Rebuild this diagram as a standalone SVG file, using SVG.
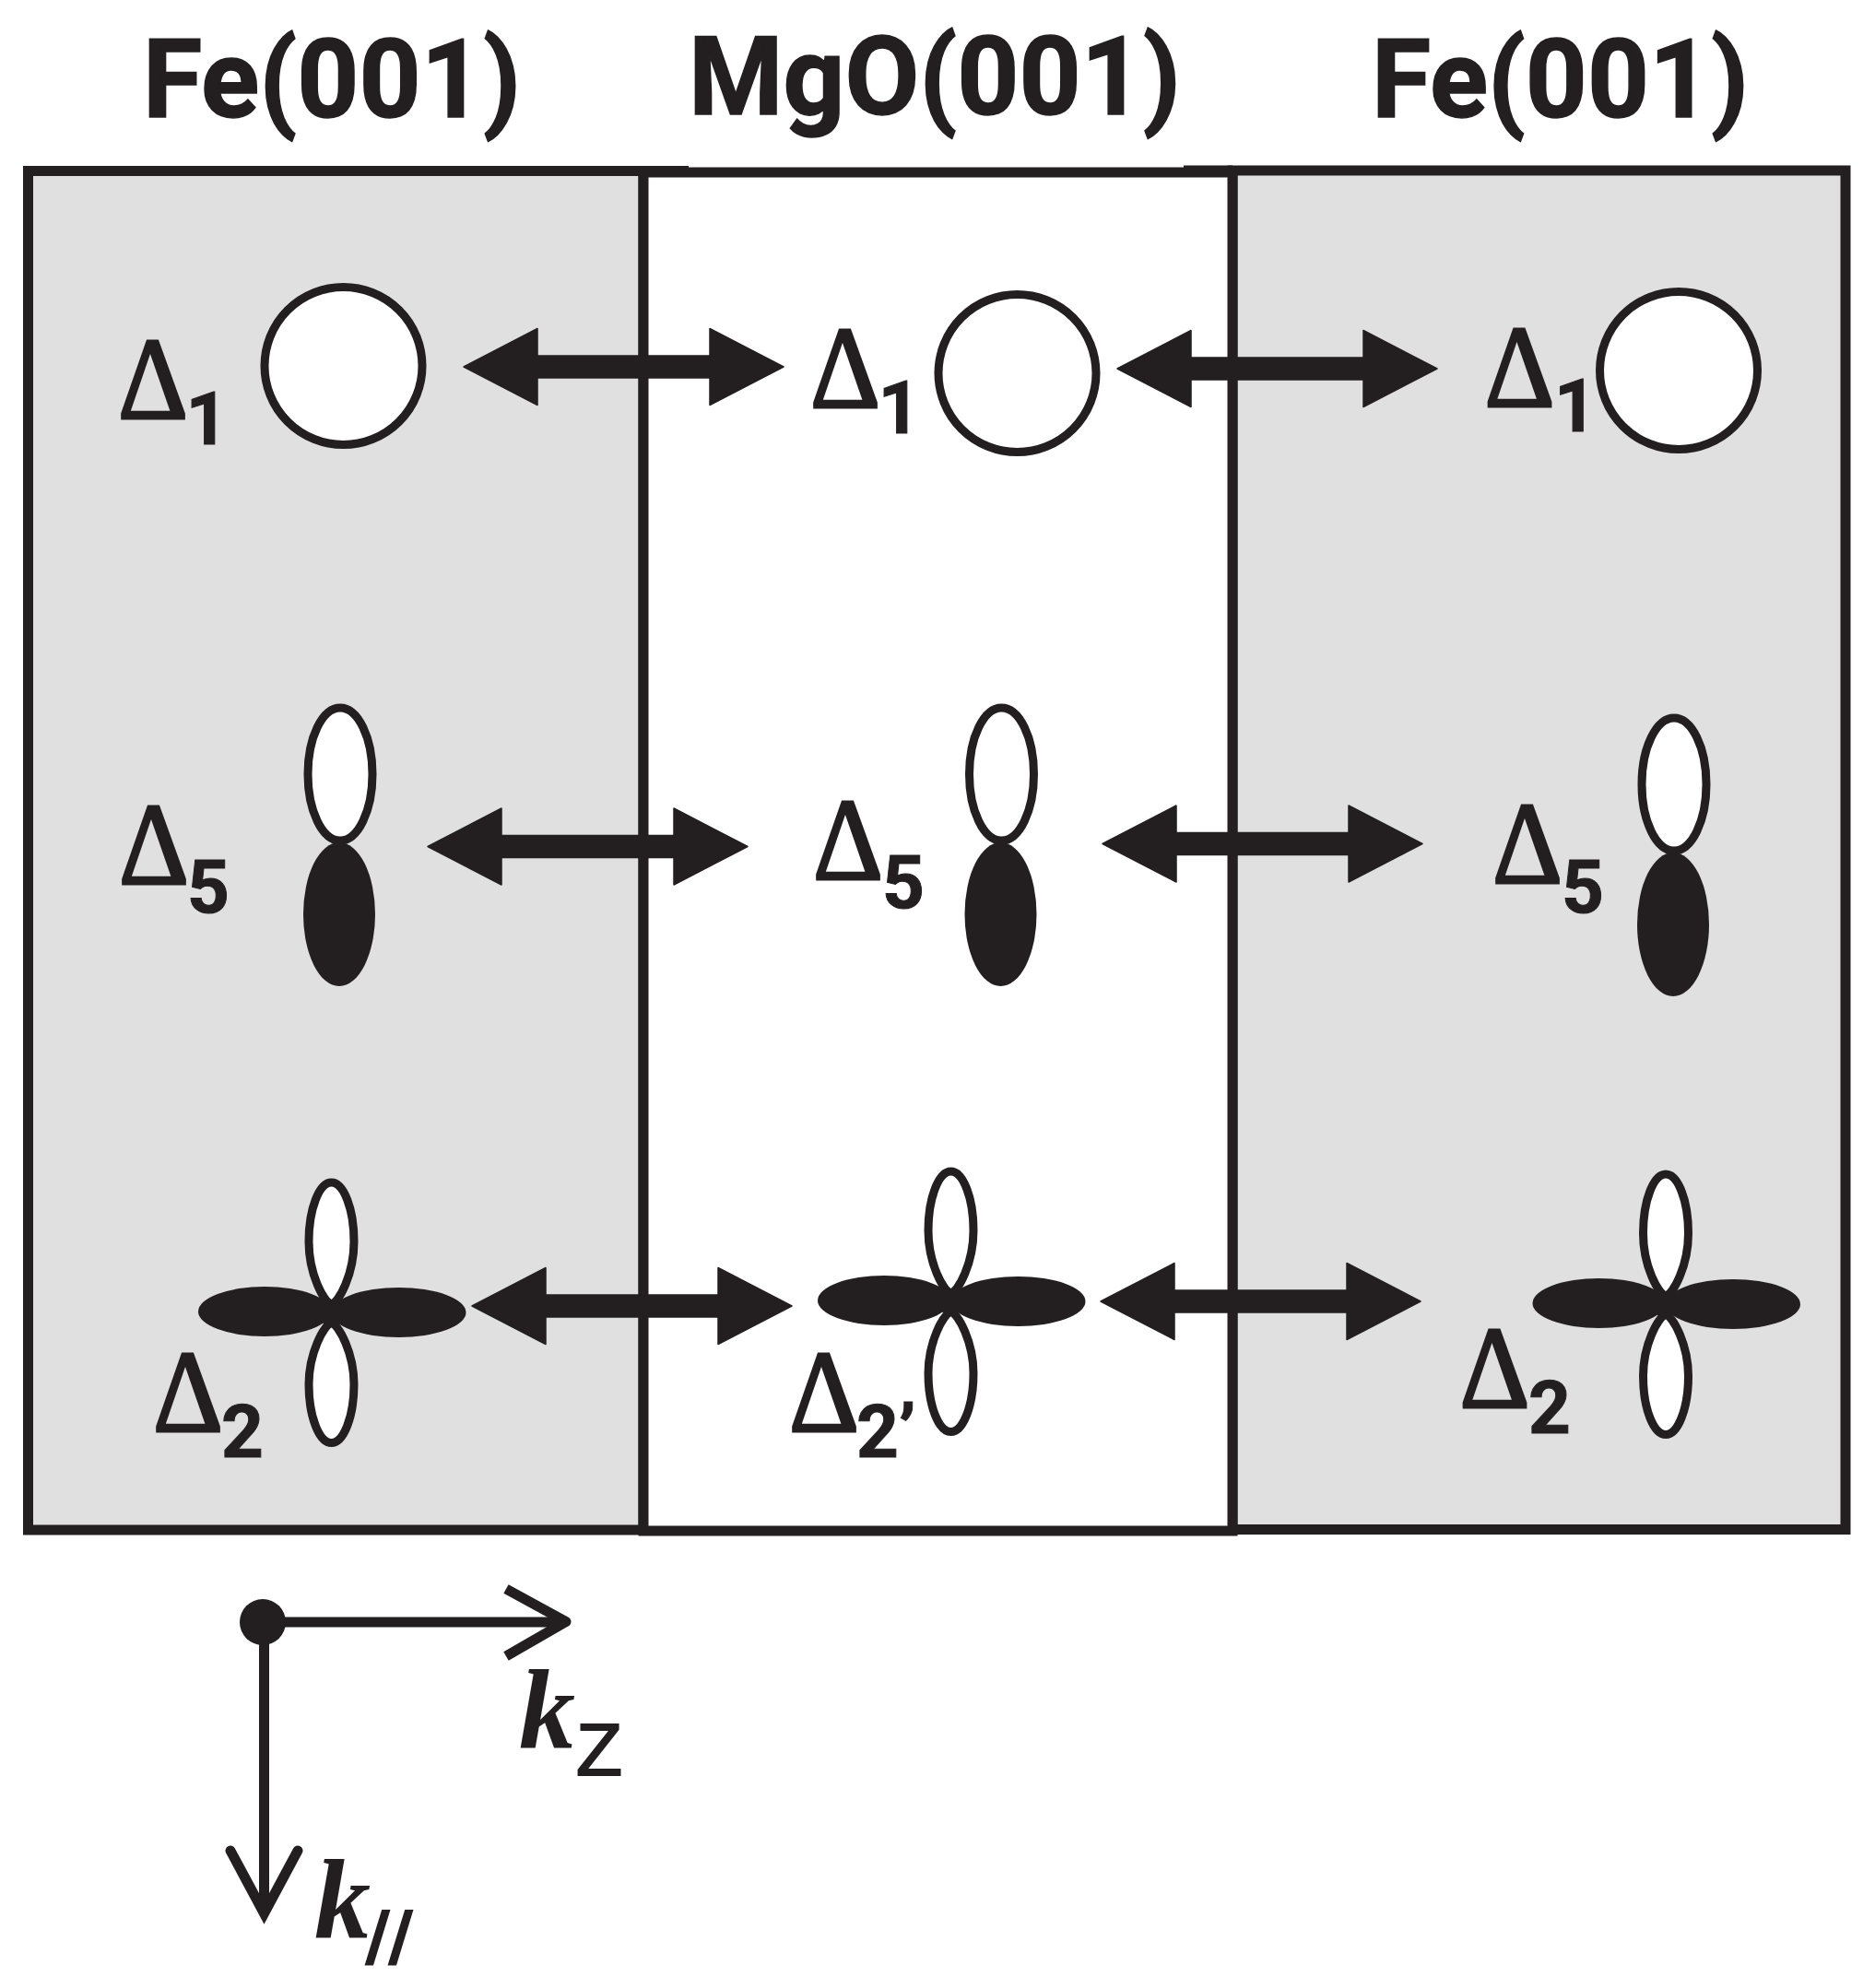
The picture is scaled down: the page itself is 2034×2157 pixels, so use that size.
<svg xmlns="http://www.w3.org/2000/svg" width="2034" height="2157" viewBox="0 0 2034 2157">
<style>
text{fill:#231f20}
.title{font-family:Roboto,"Liberation Sans",Arial,sans-serif;font-weight:700;font-size:118px;stroke:#231f20;stroke-width:1.5px}
.delta{font-family:"Liberation Serif","Times New Roman",serif;font-size:128px;stroke:#231f20;stroke-width:3px}
.sub{font-family:Roboto,"Liberation Sans",Arial,sans-serif;font-weight:700;font-size:80px;stroke:#231f20;stroke-width:1px}
.k{font-family:"Liberation Serif","Times New Roman",serif;font-weight:700;font-style:italic;font-size:122px}
.ks{font-family:"Liberation Sans",Arial,sans-serif;font-size:80px;stroke:#231f20;stroke-width:2px}
.panel{stroke:#231f20;stroke-width:11;fill:#e0e0e0}
.barrier{stroke:#231f20;stroke-width:11;fill:#fff}
.open{fill:#fff;stroke:#231f20;stroke-width:9;stroke-linejoin:round}
.solid{fill:#231f20}
.axis{fill:none;stroke:#231f20;stroke-width:11}
</style>
<defs>
<symbol id="arrow2" overflow="visible"><path d="M0 0L80 -41.500V-12H267V-41.500L347 0L267 41.500V12H80V41.500Z" fill="#231f20" stroke="#231f20" stroke-width="1.5" stroke-linejoin="round"/></symbol>
<symbol id="pz" overflow="visible"><ellipse class="open" cx="0" cy="-76" rx="35" ry="72"/><ellipse class="solid" cx="-1" cy="76" rx="39" ry="78"/></symbol>
<symbol id="dxy" overflow="visible"><ellipse class="solid" cx="-72.500" cy="0" rx="72" ry="27"/><ellipse class="solid" cx="73" cy="1" rx="73" ry="27"/><circle class="solid" cx="0" cy="2" r="14"/><path class="open" d="M0 -8C-8 -10 -24.500 -40 -24.500 -76C-24.500 -112 -13 -140 0 -140C13 -140 24.500 -112 24.500 -76C24.500 -40 8 -10 0 -8Z"/><path class="open" d="M0 12.500C-8 14.500 -24.500 45 -24.500 79C-24.500 115 -13 142.500 0 142.500C13 142.500 24.500 115 24.500 79C24.500 45 8 14.500 0 12.500Z"/></symbol>
</defs>
<rect width="2034" height="2157" fill="#fff"/>
<g id="panels">
<rect id="fe-left" class="panel" x="30.500" y="185.500" width="667.500" height="1474.500"/>
<rect id="fe-right" class="panel" x="1337" y="185" width="665" height="1474.500"/>
<rect id="mgo" class="barrier" x="698" y="187" width="639" height="1474"/>
<path d="M698 185.500H747M1284 185H1337" stroke="#231f20" stroke-width="11" fill="none"/>
</g>
<g id="titles">
<text class="title" x="155" y="127" textLength="410" lengthAdjust="spacingAndGlyphs">Fe(001)</text>
<text class="title" x="747" y="124" textLength="534" lengthAdjust="spacingAndGlyphs">MgO(001)</text>
<text class="title" x="1488" y="127" textLength="409" lengthAdjust="spacingAndGlyphs">Fe(001)</text>
</g>
<g id="connectors">
<use href="#arrow2" x="503" y="398"/>
<use href="#arrow2" x="1212" y="400"/>
<use href="#arrow2" x="464" y="918.500"/>
<use href="#arrow2" x="1196" y="915.500"/>
<use href="#arrow2" x="512" y="1417"/>
<use href="#arrow2" x="1194" y="1412"/>
</g>
<g id="node-fe-left-d1"><circle class="open" cx="372.500" cy="397" r="85.500"/><text class="delta" x="128" y="454" textLength="76" lengthAdjust="spacingAndGlyphs">Δ</text><text class="sub" x="201.500" y="482">1</text></g>
<g id="node-mgo-d1"><circle class="open" cx="1103.500" cy="405" r="85.500"/><text class="delta" x="879" y="442" textLength="76" lengthAdjust="spacingAndGlyphs">Δ</text><text class="sub" x="952.500" y="470">1</text></g>
<g id="node-fe-right-d1"><circle class="open" cx="1821" cy="402" r="85.500"/><text class="delta" x="1610.500" y="441" textLength="76" lengthAdjust="spacingAndGlyphs">Δ</text><text class="sub" x="1686" y="468">1</text></g>
<g id="node-fe-left-d5"><use href="#pz" x="369" y="916"/><text class="delta" x="129" y="959" textLength="76" lengthAdjust="spacingAndGlyphs">Δ</text><text class="sub" x="203" y="990">5</text></g>
<g id="node-mgo-d5"><use href="#pz" x="1086.500" y="916"/><text class="delta" x="882" y="954" textLength="76" lengthAdjust="spacingAndGlyphs">Δ</text><text class="sub" x="957" y="985">5</text></g>
<g id="node-fe-right-d5"><use href="#pz" x="1816" y="927"/><text class="delta" x="1619" y="958" textLength="76" lengthAdjust="spacingAndGlyphs">Δ</text><text class="sub" x="1694" y="990">5</text></g>
<g id="node-fe-left-d2"><use href="#dxy" x="359.500" y="1423"/><text class="delta" x="166" y="1553" textLength="76" lengthAdjust="spacingAndGlyphs">Δ</text><text class="sub" x="240" y="1581">2</text></g>
<g id="node-mgo-d2p"><use href="#dxy" x="1031.500" y="1411"/><text class="delta" x="856" y="1553" textLength="76" lengthAdjust="spacingAndGlyphs">Δ</text><text class="sub" x="929" y="1581">2’</text></g>
<g id="node-fe-right-d2"><use href="#dxy" x="1807" y="1414"/><text class="delta" x="1583.500" y="1527" textLength="76" lengthAdjust="spacingAndGlyphs">Δ</text><text class="sub" x="1658" y="1555">2</text></g>
<g id="axes">
<circle class="solid" cx="285" cy="1760" r="25"/>
<path class="axis" d="M285 1760H612"/>
<path class="axis" d="M549 1724L614 1759.500L549 1797" stroke-linejoin="round"/>
<path class="axis" d="M286.500 1760V2072"/>
<path class="axis" d="M250 2008L286.500 2076L323 2008" stroke-linecap="round"/>
<text class="k" x="563" y="1896">k</text>
<text class="ks" x="625" y="1926" textLength="50" lengthAdjust="spacingAndGlyphs">Z</text>
<text class="k" x="341" y="2102">k</text>
<text class="ks" x="397" y="2131" textLength="50" lengthAdjust="spacingAndGlyphs">//</text>
</g>
</svg>
